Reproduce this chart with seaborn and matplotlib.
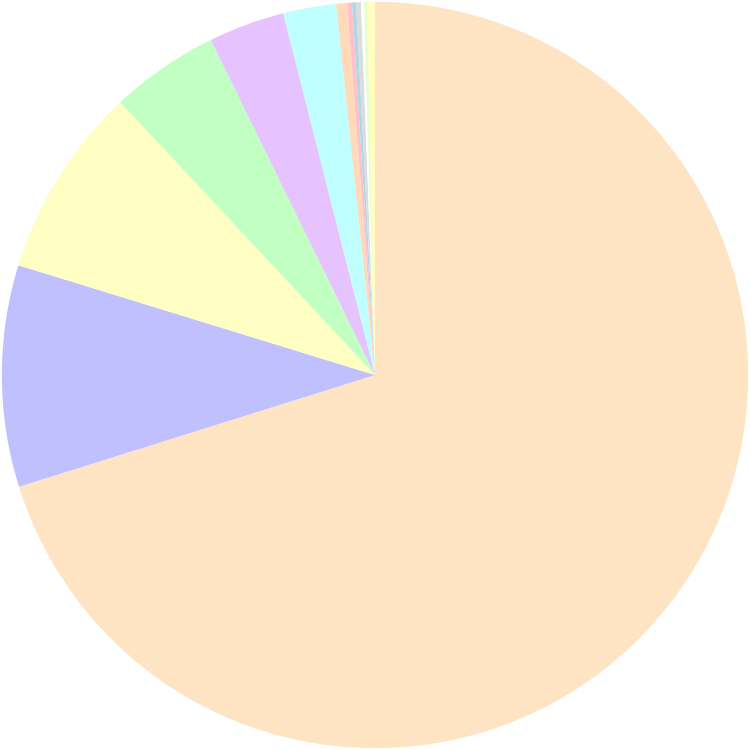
import matplotlib
matplotlib.use('Agg')
import matplotlib.pyplot as plt
import seaborn as sns

# slice shares (percent), clockwise from the top
labels = ['A', 'B', 'C', 'D', 'E', 'F', 'G', 'H', 'I', 'J', 'K', 'L', 'M']
shares = [70.2, 9.6, 8.3, 4.7, 3.3, 2.3, 0.47, 0.21, 0.17, 0.21, 0.13, 0.13, 0.34]
colors = ['#ffe4c4', '#c0c0ff', '#ffffc4', '#c2ffc2', '#e6c2ff', '#c0ffff',
          '#ffdab9', '#ffc0cb', '#add8e6', '#dcdcdc', '#ffffff', '#e6ffc8', '#ffffc0']

sns.set_style('white')
fig = plt.figure(figsize=(7.5, 7.5), dpi=100)
ax = fig.add_axes([0, 0, 1, 1])
ax.pie(shares, colors=colors, startangle=90, counterclock=False,
       wedgeprops={'linewidth': 0})
ax.set_xlim(-1.005, 1.005)
ax.set_ylim(-1.005, 1.005)
ax.set_aspect('equal')
ax.axis('off')
fig.savefig('out.png', dpi=100)
plt.close(fig)
